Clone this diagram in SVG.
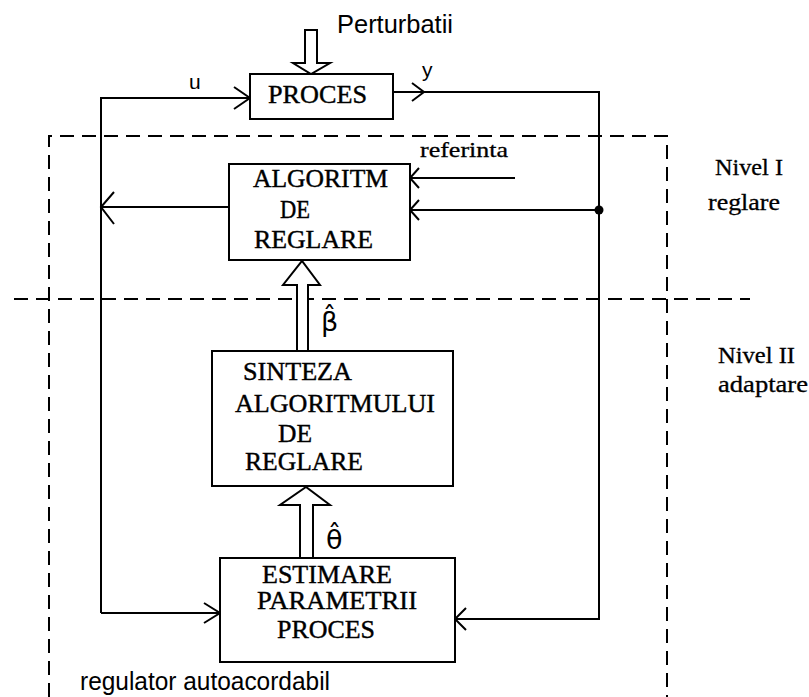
<svg xmlns="http://www.w3.org/2000/svg" width="809" height="697" viewBox="0 0 809 697">
<style>
.box{fill:#fff;stroke:#000;stroke-width:2}
.ln{fill:none;stroke:#000;stroke-width:2}
.ah{fill:none;stroke:#000;stroke-width:2;stroke-linejoin:miter}
.dash{fill:none;stroke:#000;stroke-width:2;stroke-dasharray:14 8}
.hol{fill:#fff;stroke:#000;stroke-width:2;stroke-linejoin:miter}
.t{font-family:"Liberation Serif","Times New Roman",serif;font-size:25px;fill:#000;stroke:#000;stroke-width:0.4}
.s{font-family:"Liberation Sans",Arial,sans-serif;font-size:25px;fill:#000}
.g{font-family:"DejaVu Sans","Liberation Sans",sans-serif;font-size:27px;fill:#000}
</style>
<rect width="809" height="697" fill="#fff"/>
<g id="frame">
<path class="dash" d="M49,697 L49,136 L667,136 L667,697"/>
<path class="dash" d="M14,299 L750,299"/>
</g>
<g id="connectors">
<path class="ln" d="M101,613 L101,98 L250,98"/>
<path class="ah" d="M234,87 L250,98 L234,109"/>
<path class="ln" d="M393,92 L599,92 L599,619 L455,619"/>
<path class="ah" d="M412,83 L424,92 L412,101"/>
<path class="ah" d="M466,608 L455,619 L466,630"/>
<path class="ln" d="M515,178 L410,178"/>
<path class="ah" d="M419,168 L410,178 L419,188"/>
<path class="ln" d="M599,210 L410,210"/>
<path class="ah" d="M419,200 L410,210 L419,220"/>
<circle cx="599" cy="210" r="4.5" fill="#000"/>
<path class="ln" d="M229,207 L101,207"/>
<path class="ah" d="M114,192 L101,207 L114,224"/>
<path class="ln" d="M101,613 L220,613"/>
<path class="ah" d="M204,603 L220,613 L204,623"/>
<polygon class="hol" points="305,30 317,30 317,63 330,63 311,74 293,63 305,63"/>
<polygon class="hol" points="297,351 297,285 283,285 302,261 320,285 308,285 308,351"/>
<polygon class="hol" points="300,558 300,505 280,505 306,487 330,505 313,505 313,558"/>
</g>
<g id="proces">
<rect class="box" x="250" y="74" width="143" height="45"/>
<text class="t" x="268" y="103" textLength="99" lengthAdjust="spacingAndGlyphs">PROCES</text>
</g>
<g id="algoritm">
<rect class="box" x="229" y="164" width="181" height="96"/>
<text class="t" x="253" y="187" textLength="135" lengthAdjust="spacingAndGlyphs">ALGORITM</text>
<text class="t" x="280" y="218" textLength="30" lengthAdjust="spacingAndGlyphs">DE</text>
<text class="t" x="254" y="248" textLength="119" lengthAdjust="spacingAndGlyphs">REGLARE</text>
</g>
<g id="sinteza">
<rect class="box" x="212" y="351" width="241" height="135"/>
<text class="t" x="243" y="380" textLength="109" lengthAdjust="spacingAndGlyphs">SINTEZA</text>
<text class="t" x="235" y="412" textLength="200" lengthAdjust="spacingAndGlyphs">ALGORITMULUI</text>
<text class="t" x="278" y="442" textLength="34" lengthAdjust="spacingAndGlyphs">DE</text>
<text class="t" x="245" y="470" textLength="118" lengthAdjust="spacingAndGlyphs">REGLARE</text>
</g>
<g id="estimare">
<rect class="box" x="220" y="558" width="235" height="104"/>
<text class="t" x="262" y="583" textLength="130" lengthAdjust="spacingAndGlyphs">ESTIMARE</text>
<text class="t" x="257" y="609" textLength="160" lengthAdjust="spacingAndGlyphs">PARAMETRII</text>
<text class="t" x="277" y="638" textLength="98" lengthAdjust="spacingAndGlyphs">PROCES</text>
</g>
<g id="labels">
<text class="s" x="337" y="33" textLength="116" lengthAdjust="spacingAndGlyphs">Perturbatii</text>
<text class="s" x="189" y="89" style="font-size:21px">u</text>
<text class="s" x="422" y="77" style="font-size:21px">y</text>
<text class="t" x="420" y="157" textLength="88" lengthAdjust="spacingAndGlyphs" style="font-size:22px;stroke-width:0.3">referinta</text>
<text class="t" x="715" y="175" textLength="68" lengthAdjust="spacingAndGlyphs" style="font-size:23px;stroke-width:0.3">Nivel I</text>
<text class="t" x="708" y="210" textLength="72" lengthAdjust="spacingAndGlyphs" style="font-size:23px;stroke-width:0.3">reglare</text>
<text class="t" x="718" y="363" textLength="77" lengthAdjust="spacingAndGlyphs" style="font-size:23px;stroke-width:0.3">Nivel II</text>
<text class="t" x="718" y="392" textLength="90" lengthAdjust="spacingAndGlyphs" style="font-size:23px;stroke-width:0.3">adaptare</text>
<text class="g" x="321" y="331">β̂</text>
<text class="g" x="326" y="549">θ̂</text>
<text class="s" x="80" y="690" textLength="250" lengthAdjust="spacingAndGlyphs">regulator autoacordabil</text>
</g>
</svg>
